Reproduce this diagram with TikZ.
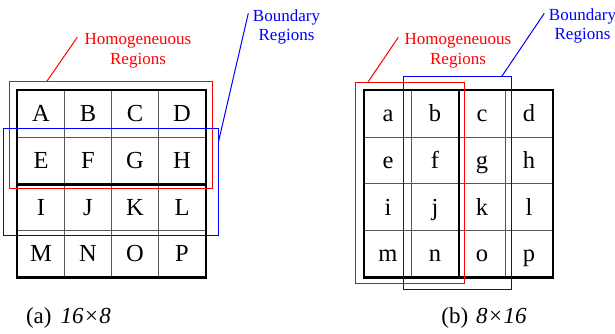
\documentclass[tikz,border=0pt]{standalone}
\usepackage{fontspec}
\setmainfont{Liberation Serif}
\begin{document}
\begin{tikzpicture}[x=1pt,y=-1pt,
  cell/.style={draw=black!65, line width=1pt, minimum width=47pt, minimum height=46.67pt,
    inner sep=0pt, font=\fontsize{24.5}{24.5}\selectfont, text height=16.2pt, text depth=0pt},
  thickborder/.style={line width=2.8pt, line cap=rect},
  hreg/.style={draw=red, line width=1pt, inner sep=0pt},
  breg/.style={draw=blue, line width=1pt, inner sep=0pt},
  lab/.style={align=center, font=\fontsize{17}{19.5}\selectfont, inner sep=0pt, anchor=north},
  capt/.style={font=\fontsize{23}{23}\selectfont, anchor=base, inner sep=0pt}]
\useasboundingbox (0,0) rectangle (615,333);
% left grid
\foreach \row [count=\r from 0] in {{A,B,C,D},{E,F,G,H},{I,J,K,L},{M,N,O,P}} {
  \foreach \t [count=\c from 0] in \row {
    \node[cell] (L\t) at ({17.5+47*(\c+0.5)},{90.5+46.67*(\r+0.5)}) {\t};
  }
}
\draw[thickborder] (LA.north west) rectangle (LP.south east);
\draw[thickborder] (LE.south west) -- (LH.south east);
% right grid
\foreach \row [count=\r from 0] in {{a,b,c,d},{e,f,g,h},{i,j,k,l},{m,n,o,p}} {
  \foreach \t [count=\c from 0] in \row {
    \node[cell] (R\t) at ({364.5+47*(\c+0.5)},{90.5+46.67*(\r+0.5)}) {\t};
  }
}
\draw[thickborder] (Ra.north west) rectangle (Rp.south east);
\draw[thickborder] (Rb.north east) -- (Rn.south east);
% regions
\node[hreg, minimum width=203pt, minimum height=107pt] (LHom) at (111,135) {};
\node[breg, minimum width=215pt, minimum height=107pt] (LBnd) at (111,182) {};
\node[hreg, minimum width=109pt, minimum height=201pt] (RHom) at (410,183) {};
\node[breg, minimum width=108pt, minimum height=213pt] (RBnd) at (457.5,183) {};
% labels
\node[lab, text=red] (LHomL) at (138,33.6) {Homogeneuous\\Regions};
\node[lab, text=blue] (LBndL) at (286.5,9.4) {Boundary\\Regions};
\node[lab, text=red] (RHomL) at (458,33.6) {Homogeneuous\\Regions};
\node[lab, text=blue] (RBndL) at (582.5,8.4) {Boundary\\Regions};
% leader lines
\coordinate (l1a) at (46.7,81.5);  \coordinate (l1b) at (77.3,37.3);
\coordinate (l2a) at (218.5,141.7); \coordinate (l2b) at (248.3,13.3);
\coordinate (l3a) at (367.7,82.5); \coordinate (l3b) at (398.3,37.3);
\coordinate (l4a) at (501.7,76.5); \coordinate (l4b) at (544.3,13.3);
\draw[red, line width=1pt] (l1a) -- (l1b);
\draw[blue, line width=1pt] (l2a) -- (l2b);
\draw[red, line width=1pt] (l3a) -- (l3b);
\draw[blue, line width=1pt] (l4a) -- (l4b);
% captions
\node[capt] (capa) at (68.5,323) {(a)\hspace{9pt}\textit{16}\kern1.5pt×\kern1.5pt\textit{8}};
\node[capt] (capb) at (484,323) {(b)\hspace{8pt}\textit{8}\kern1.5pt×\kern1.5pt\textit{16}};
\end{tikzpicture}
\end{document}
